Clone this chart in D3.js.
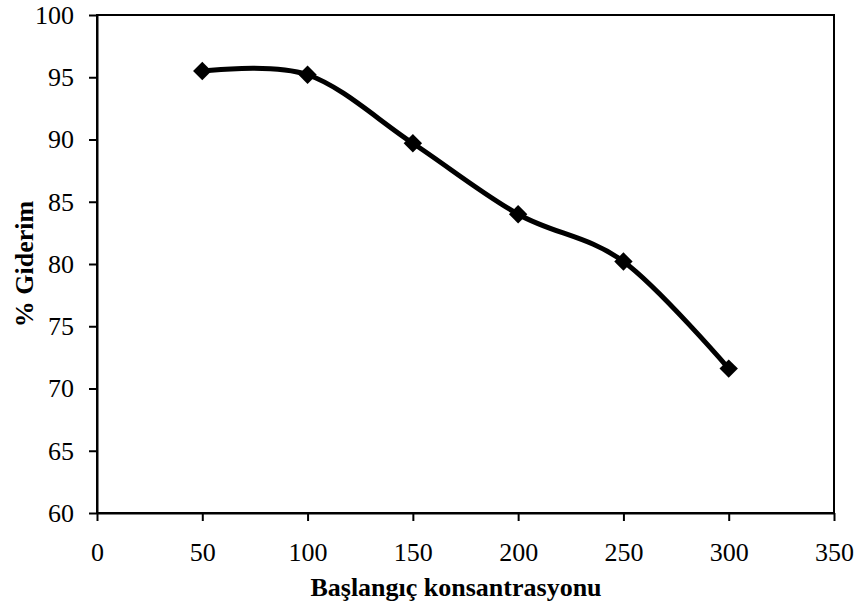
<!DOCTYPE html>
<html><head><meta charset="utf-8">
<script src="https://cdn.jsdelivr.net/npm/d3@7/dist/d3.min.js"></script>
<style>body{margin:0;background:#fff}</style>
</head><body>
<svg id="c" width="864" height="612"></svg>
<script>
const concentrations = [50, 100, 150, 200, 250, 300];
const removal = [95.5, 95.2, 89.7, 84.0, 80.2, 71.6];
const xTicks = [0, 50, 100, 150, 200, 250, 300, 350];
const yTicks = [60, 65, 70, 75, 80, 85, 90, 95, 100];
const xTitle = "Başlangıç konsantrasyonu";
const yTitle = "% Giderim";

const svg = d3.select("#c");
const L = 97, R = 834, T = 15, B = 513;
const x = d3.scaleLinear().domain([0, 350]).range([L, R]);
const y = d3.scaleLinear().domain([60, 100]).range([B, T]);
const font = "'Liberation Serif','Times New Roman',serif";

svg.append("rect").attr("x", L).attr("y", T).attr("width", R - L).attr("height", B - T)
  .attr("fill", "none").attr("stroke", "#000").attr("stroke-width", 2);

const xa = svg.append("g").attr("transform", `translate(0,${B})`)
  .call(d3.axisBottom(x).tickValues(xTicks).tickSize(8).tickSizeOuter(0).tickPadding(22));
const ya = svg.append("g").attr("transform", `translate(${L},0)`)
  .call(d3.axisLeft(y).tickValues(yTicks).tickSize(8).tickSizeOuter(0).tickPadding(15));
[xa, ya].forEach(a => {
  a.select(".domain").attr("stroke", "#000").attr("stroke-width", 2);
  a.selectAll(".tick line").attr("stroke", "#000").attr("stroke-width", 2);
  a.selectAll("text").attr("font-family", font).attr("font-size", 26).attr("fill", "#000");
});

svg.append("text").attr("x", 456).attr("y", 596).attr("text-anchor", "middle")
  .attr("font-family", font).attr("font-weight", "bold").attr("font-size", 26).text(xTitle);
svg.append("text").attr("transform", `translate(33,264) rotate(-90)`).attr("text-anchor", "middle")
  .attr("font-family", font).attr("font-weight", "bold").attr("font-size", 26).text(yTitle);

const pts = concentrations.map((c, i) => [c, removal[i]]);
svg.append("path").datum(pts)
  .attr("d", d3.line().x(d => x(d[0])).y(d => y(d[1])).curve(d3.curveCatmullRom.alpha(0)))
  .attr("fill", "none").attr("stroke", "#000").attr("stroke-width", 5);

svg.selectAll(".m").data(pts).enter().append("rect")
  .attr("x", -6.5).attr("y", -6.5).attr("width", 13).attr("height", 13)
  .attr("transform", d => `translate(${x(d[0])},${y(d[1])}) rotate(45)`)
  .attr("fill", "#000");
</script>
</body></html>
